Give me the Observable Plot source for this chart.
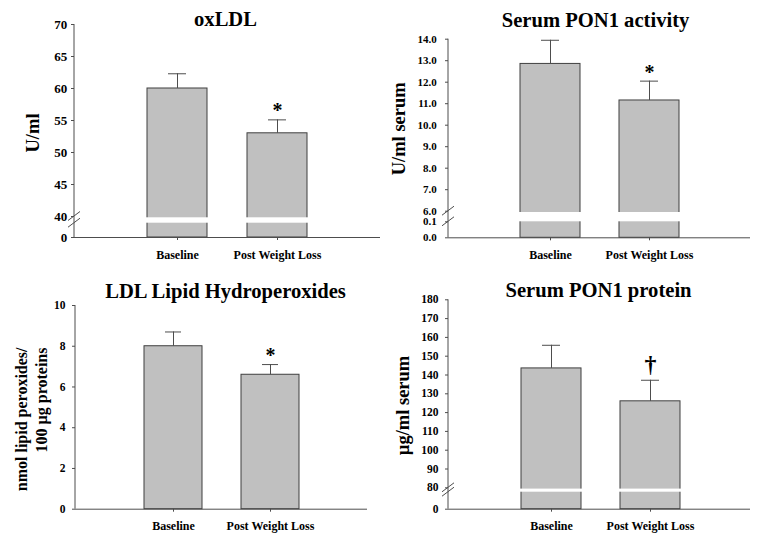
<!DOCTYPE html>
<html>
<head>
<meta charset="utf-8">
<script src="https://cdn.jsdelivr.net/npm/d3@7"></script>
<script src="https://cdn.jsdelivr.net/npm/@observablehq/plot@0.6"></script>
<style>
html, body { margin: 0; padding: 0; background: #fff; }
#chart { position: relative; width: 757px; height: 540px; background: #fff; overflow: hidden; }
#chart svg { position: absolute; }
#chart svg text { font-family: "Liberation Serif", "Times New Roman", serif; font-weight: bold; fill: #000; }
</style>
</head>
<body>
<div id="chart"></div>
<script>
// ---- data ----
const groups = ["Baseline", "Post Weight Loss"];
const titles = ["oxLDL", "Serum PON1 activity", "LDL Lipid Hydroperoxides", "Serum PON1 protein"];
const yLabels = ["U/ml", "U/ml serum", "nmol lipid peroxides/\n100 µg proteins", "µg/ml serum"];

const oxLDLMean = [60.0, 53.0];
const oxLDLSE = [2.3, 2.1];
const pon1ActivityMean = [12.85, 11.15];
const pon1ActivitySE = [1.1, 0.9];
const hydroperoxideMean = [8.0, 6.6];
const hydroperoxideSE = [0.7, 0.5];
const pon1ProteinMean = [143.5, 126.0];
const pon1ProteinSE = [12.3, 11.2];

const oxLDLMarks = ["", "*"];
const pon1ActivityMarks = ["", "*"];
const hydroperoxideMarks = ["", "*"];
const pon1ProteinMarks = ["", "†"];

const oxLDLTicks = [0, 40, 45, 50, 55, 60, 65, 70];
const pon1ActivityTicks = [0, 0.1, 6, 7, 8, 9, 10, 11, 12, 13, 14];
const hydroperoxideTicks = [0, 2, 4, 6, 8, 10];
const pon1ProteinTicks = [0, 80, 90, 100, 110, 120, 130, 140, 150, 160, 170, 180];

// ---- layout (scale / position configuration) ----
const panels = [
  {
    mean: oxLDLMean, se: oxLDLSE, marks: oxLDLMarks, ticks: oxLDLTicks, fmt: d3.format("d"),
    title: titles[0], label: yLabels[0],
    left: 0, top: 0, width: 382, marginLeft: 74, marginRight: 2, marginTop: 24, marginBottom: 33,
    yDomain: [0, 5, 40, 70], yRange: [237, 222.7, 216, 24], brk: [5, 40],
    xRange: [146, 308], pad: 0.396,
    tickFont: 13, tickPad: 4.3, titleDx: -2, titleDy: 1, labelDx: -41, labelDy: 2
  },
  {
    mean: pon1ActivityMean, se: pon1ActivitySE, marks: pon1ActivityMarks, ticks: pon1ActivityTicks, fmt: d3.format(".1f"),
    title: titles[1], label: yLabels[1],
    left: 378, top: 0, width: 379, marginLeft: 70, marginRight: 7, marginTop: 38.7, marginBottom: 32.7,
    yDomain: [0, 0.1, 6, 14], yRange: [237.3, 221.3, 210.7, 38.7], brk: [0.1, 6],
    xRange: [141.7, 301.7], pad: 0.397,
    tickFont: 11, tickPad: 8.7, titleDx: -4, titleDy: -12.7, labelDx: -49, labelDy: -9.7
  },
  {
    mean: hydroperoxideMean, se: hydroperoxideSE, marks: hydroperoxideMarks, ticks: hydroperoxideTicks, fmt: d3.format("d"),
    title: titles[2], label: yLabels[2],
    left: 0, top: 270, width: 378, marginLeft: 75, marginRight: 11, marginTop: 35, marginBottom: 31.3,
    yDomain: [0, 10], yRange: [238.7, 35], brk: null,
    xRange: [143.3, 299.3], pad: 0.402,
    tickFont: 11.5, tickPad: 7, titleDx: 4, titleDy: -8, labelDx: -45, labelDy: 42, multiline: true
  },
  {
    mean: pon1ProteinMean, se: pon1ProteinSE, marks: pon1ProteinMarks, ticks: pon1ProteinTicks, fmt: d3.format("d"),
    title: titles[3], label: yLabels[3],
    left: 378, top: 270, width: 379, marginLeft: 70, marginRight: 7, marginTop: 29.3, marginBottom: 31.3,
    yDomain: [0, 5, 80, 180], yRange: [238.7, 221.7, 217.3, 29.3], brk: [5, 80],
    xRange: [143.3, 302.7], pad: 0.393,
    tickFont: 11.5, tickPad: 7, titleDx: -1, titleDy: -3.3, labelDx: -45, labelDy: 1
  }
];

const barFill = "#c0c0c0";
const barStroke = "#3f3f3f";
const axisColor = "#4d4d4d";
const serif = '"Liberation Serif", "Times New Roman", serif';

const chart = document.getElementById("chart");

for (const p of panels) {
  const rows = groups.map((g, i) => ({group: g, value: p.mean[i], se: p.se[i], sig: p.marks[i]}));
  const yMax = p.yDomain[p.yDomain.length - 1];

  const axisLine = (index, scales, values, dims) => {
    const g = d3.create("svg:g").attr("stroke", axisColor).attr("fill", "none").attr("stroke-width", 1);
    const x0 = dims.marginLeft;
    g.append("line").attr("x1", x0).attr("x2", x0).attr("y1", scales.y(0)).attr("y2", scales.y(yMax));
    if (p.brk) {
      for (const b of p.brk) {
        const yy = scales.y(b);
        g.append("line").attr("x1", x0 - 6).attr("y1", yy + 4.5).attr("x2", x0 + 6).attr("y2", yy - 4.5);
      }
    }
    return g.node();
  };

  const marks = [
    Plot.barY(rows, {x: "group", y1: 0, y2: "value", fill: barFill, stroke: barStroke, strokeWidth: 1})
  ];
  if (p.brk) {
    marks.push(Plot.barY(groups, {x: d => d, y1: () => p.brk[0], y2: () => p.brk[1], fill: "white",
      insetLeft: -1.5, insetRight: -1.5, insetTop: 1.3}));
  }
  marks.push(
    Plot.ruleX(rows, {x: "group", y1: "value", y2: d => d.value + d.se, stroke: axisColor, strokeWidth: 1}),
    Plot.tickY(rows, {x: "group", y: d => d.value + d.se, stroke: axisColor, strokeWidth: 1, insetLeft: 21, insetRight: 21}),
    Plot.ruleY([0], {stroke: axisColor, strokeWidth: 1}),
    axisLine,
    Plot.axisX({tickSize: 3, tickPadding: 9.5, fontSize: 12, stroke: axisColor, label: null, fontFamily: serif}),
    Plot.axisY({ticks: p.ticks, tickFormat: p.fmt, tickSize: 3, tickPadding: p.tickPad, fontSize: p.tickFont,
      stroke: axisColor, label: null, fontFamily: serif}),
    Plot.text(rows.filter(d => d.sig === "*"), {x: "group", y: d => d.value + d.se, text: "sig", dy: -9,
      fontSize: 20, lineAnchor: "middle", fontFamily: serif}),
    Plot.text(rows.filter(d => d.sig === "†"), {x: "group", y: d => d.value + d.se, text: "sig", dy: -15.5,
      fontSize: 24, lineAnchor: "middle", fontFamily: serif}),
    Plot.text([p.title], {frameAnchor: "top", dx: p.titleDx, dy: p.titleDy, lineAnchor: "bottom",
      fontSize: 20.6, fontFamily: serif}),
    p.multiline
      ? Plot.text([p.label], {frameAnchor: "top-left", rotate: -90, dx: p.labelDx, dy: p.labelDy,
          textAnchor: "end", lineAnchor: "middle", lineHeight: 1.25, fontSize: 16, fontFamily: serif})
      : Plot.text([p.label], {frameAnchor: "left", rotate: -90, dx: p.labelDx, dy: p.labelDy,
          textAnchor: "middle", lineAnchor: "middle", fontSize: 18.5, fontFamily: serif})
  );

  const svg = Plot.plot({
    width: p.width,
    height: 270,
    marginLeft: p.marginLeft,
    marginRight: p.marginRight,
    marginTop: p.marginTop,
    marginBottom: p.marginBottom,
    style: {background: "transparent", overflow: "visible"},
    x: {type: "band", domain: groups, range: p.xRange, paddingInner: p.pad, paddingOuter: 0},
    y: {type: "linear", domain: p.yDomain, range: p.yRange},
    marks
  });
  svg.style.left = p.left + "px";
  svg.style.top = p.top + "px";
  chart.appendChild(svg);
}
</script>
</body>
</html>
